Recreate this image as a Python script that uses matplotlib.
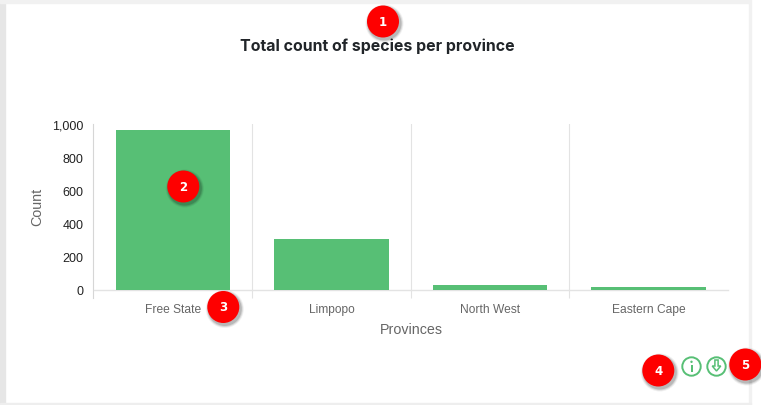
import matplotlib
matplotlib.use('Agg')
import matplotlib.pyplot as plt
from matplotlib.patches import Circle, Rectangle, FancyArrow

provinces = ['Free State', 'Limpopo', 'North West', 'Eastern Cape']
counts = [964, 309, 31, 18]
y_ticks = [0, 200, 400, 600, 800, 1000]
y_tick_labels = ['0', '200', '400', '600', '800', '1,000']

W, H = 761, 406
GREEN = '#57bf75'
GRID = '#e3e3e3'

fig = plt.figure(figsize=(W / 100, H / 100), dpi=100, facecolor='white')


def pixel_axes():
    # full figure axes in image pixels, for things that are not chart marks
    a = fig.add_axes([0, 0, 1, 1])
    a.set_xlim(0, W)
    a.set_ylim(H, 0)
    a.axis('off')
    a.patch.set_alpha(0)
    return a


bg = pixel_axes()
bg.add_patch(Rectangle((0, 0), 5, H, color='#e6e6e6', zorder=1))
bg.add_patch(Rectangle((0, 0), 750, 4, color='#f1f1f1', zorder=1))
bg.add_patch(Rectangle((749, 0), 2, 405, color='#f1f1f1', zorder=1))
bg.add_patch(Rectangle((0, 403.5), 751, 2.5, color='#eeeeee', zorder=1))

# chart
ax = fig.add_axes([93.6 / W, 1 - 290.8 / H, (727.8 - 93.6) / W, (290.8 - 125.1) / H])
ax.patch.set_alpha(0)
ax.bar(range(len(provinces)), counts, width=0.72, color=GREEN, zorder=3)
ax.set_xlim(-0.5, len(provinces) - 0.5)
ax.set_ylim(0, 1000)

for s in ['top', 'right', 'left']:
    ax.spines[s].set_visible(False)
ax.spines['bottom'].set_color(GRID)
ax.spines['bottom'].set_linewidth(1)

ax.set_xticks([i - 0.5 for i in range(1, len(provinces))], minor=True)
ax.grid(True, which='minor', axis='x', color=GRID, linewidth=0.8, zorder=0)
ax.set_xticks(range(len(provinces)))
ax.set_xticklabels(provinces, color='#666666', fontsize=8.65, family='Liberation Sans')
ax.tick_params(axis='x', which='major', length=0, pad=9.2)
ax.tick_params(axis='x', which='minor', length=6, width=0.8, color=GRID)
ax.set_yticks(y_ticks)
ax.set_yticklabels(y_tick_labels, color='#222222', fontsize=9, family='Liberation Sans',
                   va='center_baseline')
ax.tick_params(axis='y', length=0, pad=7.4)

# first category line sits on the axis edge
ax.plot([-0.0015, -0.0015], [-0.05, 1], transform=ax.transAxes, color='#d6d6d6', lw=0.8,
        clip_on=False, zorder=1)

top = pixel_axes()
top.text(36.8, 207, 'Count', rotation=90, ha='center', va='center', color='#666666',
         fontsize=10.3, family='Liberation Sans')
top.text(411, 330, 'Provinces', ha='center', va='center', color='#666666',
         fontsize=10.3, family='Liberation Sans')
top.text(377, 46.5, 'Total count of species per province', ha='center', va='center',
         color='#212529', fontsize=11.45, fontweight='bold', family='Inter')


def badge(x, y, label):
    for r, a in [(3.0, 0.06), (2.0, 0.10), (1.0, 0.14)]:
        top.add_patch(Circle((x + 1.5, y + 2), 16 + r, color='black', alpha=a, lw=0, zorder=5))
    top.add_patch(Circle((x, y), 16, color='#fe0000', lw=0, zorder=6))
    top.text(x, y, label, color='white', fontsize=8.5, fontweight='bold', ha='center',
             va='center', zorder=7)


badge(383, 22.5, '1')
badge(183.3, 187.5, '2')
badge(223.3, 308, '3')
badge(658.3, 371.5, '4')
badge(745.3, 365.5, '5')

# info icon
top.add_patch(Circle((691.5, 367.5), 9.2, fill=False, ec=GREEN, lw=1.4, zorder=4))
top.add_patch(Rectangle((690.5, 366), 2.0, 6.5, color=GREEN, lw=0, zorder=4))
top.add_patch(Circle((691.5, 362.8), 1.2, color=GREEN, lw=0, zorder=4))

# download icon
top.add_patch(Circle((716.5, 367.5), 9.2, fill=False, ec=GREEN, lw=1.4, zorder=4))
top.add_patch(FancyArrow(716.5, 361, 0, 11, width=3.2, head_width=8.5, head_length=5,
                         length_includes_head=True, fill=False, ec=GREEN, lw=1.1, zorder=4))

fig.savefig('out.png', dpi=100)
